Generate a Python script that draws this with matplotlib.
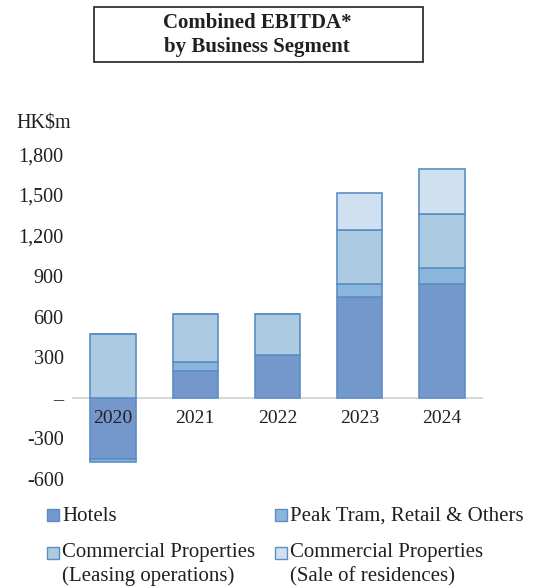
import matplotlib.pyplot as plt
from matplotlib.patches import Rectangle
import numpy as np

plt.rcParams['font.family'] = ['Liberation Serif', 'DejaVu Serif']

years = ['2020', '2021', '2022', '2023', '2024']
hotels = [-455, 200, 317, 745, 845]
peak_tram = [-20, 68, 0, 100, 117]
leasing = [472, 350, 304, 396, 398]
sale = [0, 0, 0, 270, 331]

series = [hotels, peak_tram, leasing, sale]
labels = ['Hotels', 'Peak Tram, Retail & Others',
          'Commercial Properties\n(Leasing operations)',
          'Commercial Properties\n(Sale of residences)']
colors = ['#7598CC', '#8BB6DB', '#ACCBE3', '#CFE1F0']
edge = '#5B8EC4'
ink = '#231F20'

yticks = [-600, -300, 0, 300, 600, 900, 1200, 1500, 1800]

W, H = 535, 587
fig = plt.figure(figsize=(W / 100, H / 100), dpi=100)
ax = fig.add_axes([72 / W, 1 - 479 / H, 411 / W, (479 - 154.3) / H])

x = np.arange(len(years))
pos_base = np.zeros(len(years))
neg_base = np.zeros(len(years))
for vals, c in zip(series, colors):
    v = np.array(vals, dtype=float)
    bottom = np.where(v >= 0, pos_base, neg_base)
    ax.bar(x, v, 0.55, bottom=bottom, color=c, edgecolor=edge, linewidth=1.2, zorder=2)
    pos_base = pos_base + np.where(v > 0, v, 0)
    neg_base = neg_base + np.where(v < 0, v, 0)

ax.axhline(0, color='#D9D9D9', linewidth=1.5, zorder=1)
ax.set_xlim(-0.5, 4.5)
ax.set_ylim(-600, 1800)
ax.set_yticks(yticks)
ax.set_yticklabels(['–' if t == 0 else f'{t:,}' for t in yticks], fontsize=14.5, color=ink)
ax.set_xticks([])
for s in ax.spines.values():
    s.set_visible(False)
ax.tick_params(axis='y', length=0, pad=6)

# year labels just below the zero line
for i, yr in enumerate(years):
    ax.annotate(yr, xy=(i, 0), xytext=(0, -25), textcoords='offset pixels',
                ha='center', va='baseline', fontsize=14, color=ink, zorder=5)

fig.text(16 / W, 1 - 128.3 / H, 'HK$m', fontsize=14.5, color=ink, va='baseline', ha='left')

# title box
fig.patches.append(Rectangle((94 / W, 1 - 62 / H), 329 / W, 54.5 / H,
                             transform=fig.transFigure, fill=False,
                             edgecolor=ink, linewidth=1.2))
for k, line in enumerate(['Combined EBITDA*', 'by Business Segment']):
    fig.text(257 / W, 1 - (28 + 24 * k) / H, line, ha='center', va='baseline',
             fontsize=15, fontweight='bold', color=ink)

# legend
spots = [(47, 521, 521), (275, 521, 521), (47, 557.5, 559), (275, 557.5, 559)]
for (lx, base, sq), lab, c in zip(spots, labels, colors):
    fig.patches.append(Rectangle((lx / W, 1 - sq / H), 12 / W, 12.5 / H,
                                 transform=fig.transFigure, facecolor=c,
                                 edgecolor=edge, linewidth=1))
    for k, line in enumerate(lab.split('\n')):
        fig.text((lx + 15) / W, 1 - (base + 24 * k) / H, line, fontsize=15, color=ink,
                 ha='left', va='baseline')

plt.savefig('out.png', dpi=100)
